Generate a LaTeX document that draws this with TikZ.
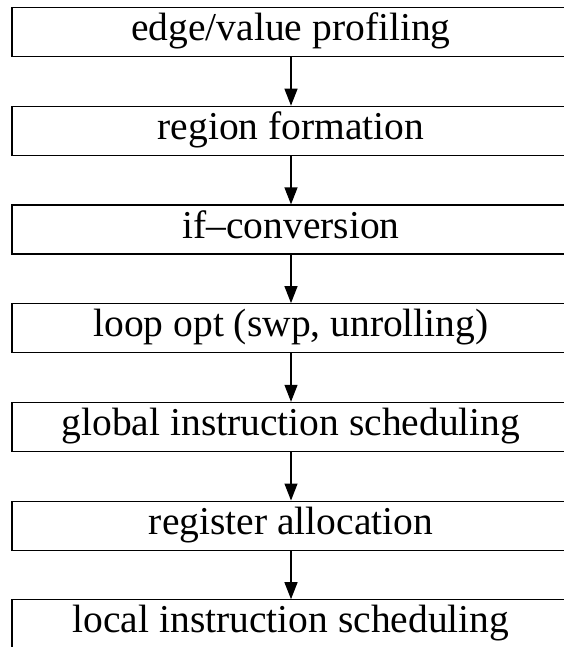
\documentclass[tikz,border=0pt]{standalone}
\usepackage{fontspec}
\setmainfont{Liberation Serif}
\usetikzlibrary{arrows.meta}
\begin{document}
\begin{tikzpicture}[x=1pt,y=1pt,
  stage/.style={draw,line width=1.2pt,minimum width=558pt,minimum height=49pt,inner sep=0pt,
    text height=27pt,text depth=10pt,font=\fontsize{39.5}{47}\selectfont,anchor=north},
  flow/.style={line width=1.2pt,-{Triangle[length=17pt,width=13pt]}}]
\useasboundingbox (0,0) rectangle (563,-647);
\node[stage] (n1) at (291,-7) {edge/value profiling};
\node[stage] (n2) at (291,-105.7) {region formation};
\node[stage] (n3) at (291,-204.4) {if–conversion};
\node[stage] (n4) at (291,-303.1) {loop opt (swp, unrolling)};
\node[stage] (n5) at (291,-401.8) {global instruction scheduling};
\node[stage] (n6) at (291,-500.5) {register allocation};
\node[stage] (n7) at (291,-599.2) {local instruction scheduling};
\draw[flow] (n1) -- (n2);
\draw[flow] (n2) -- (n3);
\draw[flow] (n3) -- (n4);
\draw[flow] (n4) -- (n5);
\draw[flow] (n5) -- (n6);
\draw[flow] (n6) -- (n7);
\end{tikzpicture}
\end{document}
